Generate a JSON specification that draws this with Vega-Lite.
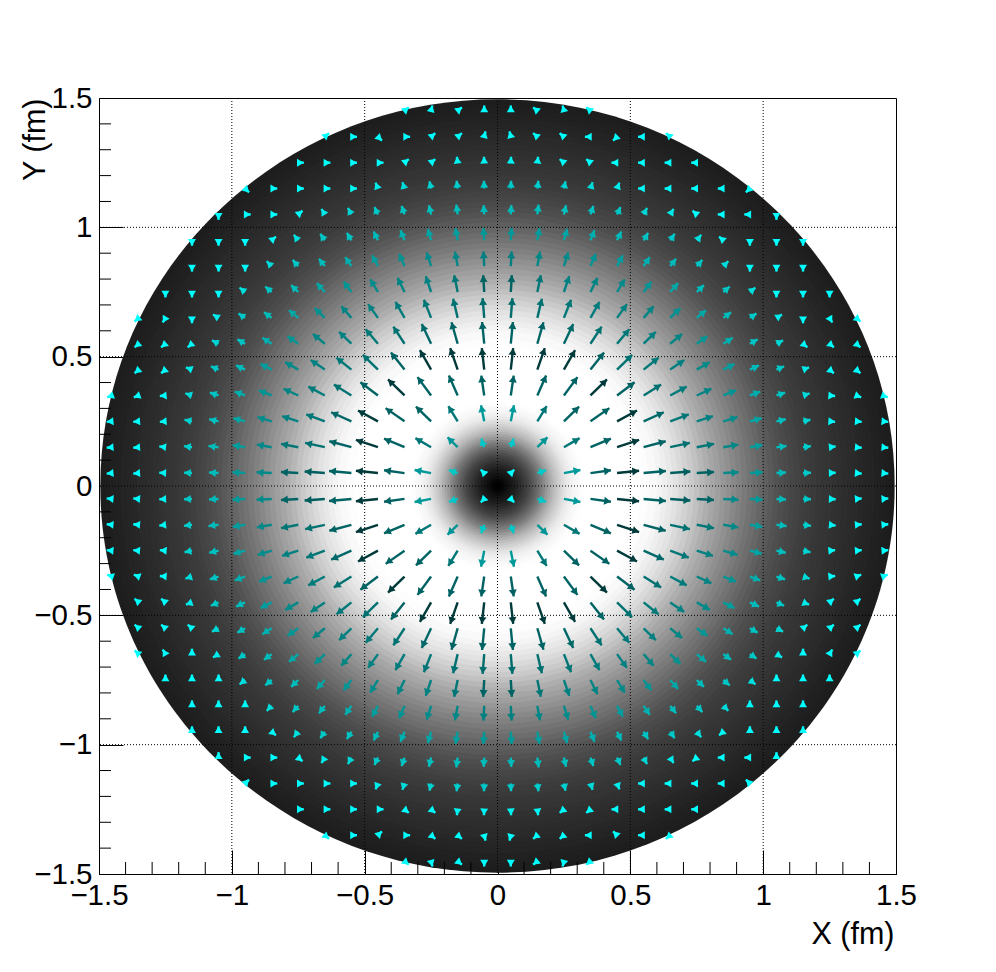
{"$schema":"https://vega.github.io/schema/vega-lite/v6.json","width":797,"height":776,"autosize":{"type":"none"},"padding":{"left":99,"top":98,"right":100,"bottom":98},"background":"white","view":{"stroke":"black","strokeWidth":1,"fill":null},
"config":{"axis":{"labelFont":"Liberation Sans","titleFont":"Liberation Sans","labelFontSize":29.5,"titleFontSize":30.5,"titleFontWeight":"normal","labelColor":"black","titleColor":"black","tickColor":"black","domainColor":"black","grid":false,"zindex":1,"labelFlush":false,"labelOverlap":false}},
"datasets":{"arrows":[
{"x":0.05,"y":0.05,"e":0.063,"f":0.063,"a":45,"m":0},{"x":0.15,"y":0.05,"e":0.183,"f":0.061,"a":72,"m":50},{"x":0.25,"y":0.05,"e":0.312,"f":0.062,"a":79,"m":95},{"x":0.35,"y":0.05,"e":0.427,"f":0.061,"a":82,"m":151},{"x":0.45,"y":0.05,"e":0.533,"f":0.059,"a":84,"m":195},{"x":0.55,"y":0.05,"e":0.634,"f":0.058,"a":85,"m":150},{"x":0.65,"y":0.05,"e":0.726,"f":0.056,"a":86,"m":155},{"x":0.75,"y":0.05,"e":0.815,"f":0.054,"a":86,"m":150},{"x":0.85,"y":0.05,"e":0.907,"f":0.053,"a":87,"m":110},{"x":0.95,"y":0.05,"e":0.998,"f":0.053,"a":87,"m":95},{"x":1.05,"y":0.05,"e":1.086,"f":0.052,"a":87,"m":62},{"x":1.15,"y":0.05,"e":1.18,"f":0.051,"a":88,"m":50},{"x":1.25,"y":0.05,"e":1.273,"f":0.051,"a":88,"m":12},{"x":1.35,"y":0.05,"e":1.371,"f":0.048,"a":95,"m":0},{"x":1.45,"y":0.05,"e":1.471,"f":0.048,"a":95,"m":0},
{"x":0.05,"y":0.15,"e":0.061,"f":0.183,"a":18,"m":50},{"x":0.15,"y":0.15,"e":0.188,"f":0.188,"a":45,"m":100},{"x":0.25,"y":0.15,"e":0.309,"f":0.185,"a":59,"m":130},{"x":0.35,"y":0.15,"e":0.427,"f":0.183,"a":67,"m":150},{"x":0.45,"y":0.15,"e":0.533,"f":0.178,"a":72,"m":195},{"x":0.55,"y":0.15,"e":0.633,"f":0.173,"a":75,"m":150},{"x":0.65,"y":0.15,"e":0.724,"f":0.167,"a":77,"m":135},{"x":0.75,"y":0.15,"e":0.815,"f":0.163,"a":79,"m":130},{"x":0.85,"y":0.15,"e":0.906,"f":0.16,"a":80,"m":112},{"x":0.95,"y":0.15,"e":0.997,"f":0.158,"a":81,"m":90},{"x":1.05,"y":0.15,"e":1.088,"f":0.155,"a":82,"m":60},{"x":1.15,"y":0.15,"e":1.18,"f":0.154,"a":83,"m":45},{"x":1.25,"y":0.15,"e":1.273,"f":0.153,"a":83,"m":10},{"x":1.35,"y":0.15,"e":1.371,"f":0.148,"a":95,"m":0},{"x":1.45,"y":0.15,"e":1.471,"f":0.148,"a":95,"m":0},
{"x":0.05,"y":0.25,"e":0.062,"f":0.312,"a":11,"m":95},{"x":0.15,"y":0.25,"e":0.185,"f":0.309,"a":31,"m":130},{"x":0.25,"y":0.25,"e":0.307,"f":0.307,"a":45,"m":150},{"x":0.35,"y":0.25,"e":0.421,"f":0.301,"a":54,"m":150},{"x":0.45,"y":0.25,"e":0.525,"f":0.292,"a":61,"m":195},{"x":0.55,"y":0.25,"e":0.626,"f":0.285,"a":66,"m":145},{"x":0.65,"y":0.25,"e":0.72,"f":0.277,"a":69,"m":130},{"x":0.75,"y":0.25,"e":0.811,"f":0.27,"a":72,"m":120},{"x":0.85,"y":0.25,"e":0.903,"f":0.266,"a":74,"m":108},{"x":0.95,"y":0.25,"e":0.994,"f":0.262,"a":75,"m":82},{"x":1.05,"y":0.25,"e":1.085,"f":0.258,"a":77,"m":58},{"x":1.15,"y":0.25,"e":1.178,"f":0.256,"a":78,"m":42},{"x":1.25,"y":0.25,"e":1.271,"f":0.248,"a":95,"m":5},{"x":1.35,"y":0.25,"e":1.371,"f":0.248,"a":95,"m":0},{"x":1.45,"y":0.25,"e":1.471,"f":0.248,"a":95,"m":0},
{"x":0.05,"y":0.35,"e":0.061,"f":0.427,"a":8,"m":151},{"x":0.15,"y":0.35,"e":0.183,"f":0.427,"a":23,"m":150},{"x":0.25,"y":0.35,"e":0.301,"f":0.421,"a":36,"m":150},{"x":0.35,"y":0.35,"e":0.412,"f":0.412,"a":45,"m":195},{"x":0.45,"y":0.35,"e":0.516,"f":0.401,"a":52,"m":150},{"x":0.55,"y":0.35,"e":0.616,"f":0.392,"a":58,"m":135},{"x":0.65,"y":0.35,"e":0.712,"f":0.384,"a":62,"m":125},{"x":0.75,"y":0.35,"e":0.805,"f":0.376,"a":65,"m":116},{"x":0.85,"y":0.35,"e":0.898,"f":0.37,"a":68,"m":100},{"x":0.95,"y":0.35,"e":0.989,"f":0.365,"a":70,"m":74},{"x":1.05,"y":0.35,"e":1.083,"f":0.361,"a":72,"m":55},{"x":1.15,"y":0.35,"e":1.175,"f":0.358,"a":73,"m":33},{"x":1.25,"y":0.35,"e":1.271,"f":0.348,"a":95,"m":0},{"x":1.35,"y":0.35,"e":1.369,"f":0.343,"a":110,"m":0},{"x":1.45,"y":0.35,"e":1.469,"f":0.343,"a":110,"m":0},
{"x":0.05,"y":0.45,"e":0.059,"f":0.533,"a":6,"m":195},{"x":0.15,"y":0.45,"e":0.178,"f":0.533,"a":18,"m":195},{"x":0.25,"y":0.45,"e":0.292,"f":0.525,"a":29,"m":195},{"x":0.35,"y":0.45,"e":0.401,"f":0.516,"a":38,"m":150},{"x":0.45,"y":0.45,"e":0.507,"f":0.507,"a":45,"m":135},{"x":0.55,"y":0.45,"e":0.606,"f":0.496,"a":51,"m":128},{"x":0.65,"y":0.45,"e":0.703,"f":0.487,"a":55,"m":120},{"x":0.75,"y":0.45,"e":0.799,"f":0.479,"a":59,"m":110},{"x":0.85,"y":0.45,"e":0.892,"f":0.472,"a":62,"m":90},{"x":0.95,"y":0.45,"e":0.984,"f":0.466,"a":65,"m":62},{"x":1.05,"y":0.45,"e":1.079,"f":0.463,"a":67,"m":50},{"x":1.15,"y":0.45,"e":1.173,"f":0.459,"a":69,"m":18},{"x":1.25,"y":0.45,"e":1.266,"f":0.436,"a":130,"m":0},{"x":1.35,"y":0.45,"e":1.366,"f":0.436,"a":130,"m":0},
{"x":0.05,"y":0.55,"e":0.058,"f":0.634,"a":5,"m":150},{"x":0.15,"y":0.55,"e":0.173,"f":0.633,"a":15,"m":150},{"x":0.25,"y":0.55,"e":0.285,"f":0.626,"a":24,"m":145},{"x":0.35,"y":0.55,"e":0.392,"f":0.616,"a":32,"m":135},{"x":0.45,"y":0.55,"e":0.496,"f":0.606,"a":39,"m":128},{"x":0.55,"y":0.55,"e":0.596,"f":0.596,"a":45,"m":120},{"x":0.65,"y":0.55,"e":0.695,"f":0.588,"a":50,"m":115},{"x":0.75,"y":0.55,"e":0.79,"f":0.579,"a":54,"m":98},{"x":0.85,"y":0.55,"e":0.885,"f":0.573,"a":57,"m":74},{"x":0.95,"y":0.55,"e":0.979,"f":0.567,"a":60,"m":55},{"x":1.05,"y":0.55,"e":1.075,"f":0.563,"a":62,"m":38},{"x":1.15,"y":0.55,"e":1.166,"f":0.536,"a":130,"m":5},{"x":1.25,"y":0.55,"e":1.266,"f":0.536,"a":130,"m":0},{"x":1.35,"y":0.55,"e":1.366,"f":0.536,"a":130,"m":0},
{"x":0.05,"y":0.65,"e":0.056,"f":0.726,"a":4,"m":140},{"x":0.15,"y":0.65,"e":0.167,"f":0.724,"a":13,"m":135},{"x":0.25,"y":0.65,"e":0.277,"f":0.72,"a":21,"m":130},{"x":0.35,"y":0.65,"e":0.384,"f":0.712,"a":28,"m":125},{"x":0.45,"y":0.65,"e":0.487,"f":0.703,"a":35,"m":120},{"x":0.55,"y":0.65,"e":0.588,"f":0.695,"a":40,"m":115},{"x":0.65,"y":0.65,"e":0.688,"f":0.688,"a":45,"m":103},{"x":0.75,"y":0.65,"e":0.785,"f":0.68,"a":49,"m":80},{"x":0.85,"y":0.65,"e":0.879,"f":0.672,"a":53,"m":60},{"x":0.95,"y":0.65,"e":0.975,"f":0.667,"a":56,"m":50},{"x":1.05,"y":0.65,"e":1.071,"f":0.663,"a":58,"m":18},{"x":1.15,"y":0.65,"e":1.15,"f":0.629,"a":180,"m":0},{"x":1.25,"y":0.65,"e":1.26,"f":0.632,"a":150,"m":0},{"x":1.35,"y":0.65,"e":1.366,"f":0.636,"a":130,"m":0},
{"x":0.05,"y":0.75,"e":0.054,"f":0.815,"a":4,"m":150},{"x":0.15,"y":0.75,"e":0.163,"f":0.815,"a":11,"m":130},{"x":0.25,"y":0.75,"e":0.27,"f":0.811,"a":18,"m":120},{"x":0.35,"y":0.75,"e":0.376,"f":0.805,"a":25,"m":116},{"x":0.45,"y":0.75,"e":0.479,"f":0.799,"a":31,"m":110},{"x":0.55,"y":0.75,"e":0.579,"f":0.79,"a":36,"m":98},{"x":0.65,"y":0.75,"e":0.68,"f":0.785,"a":41,"m":80},{"x":0.75,"y":0.75,"e":0.777,"f":0.777,"a":45,"m":60},{"x":0.85,"y":0.75,"e":0.874,"f":0.771,"a":49,"m":52},{"x":0.95,"y":0.75,"e":0.971,"f":0.767,"a":52,"m":30},{"x":1.05,"y":0.75,"e":1.05,"f":0.729,"a":180,"m":0},{"x":1.15,"y":0.75,"e":1.15,"f":0.729,"a":180,"m":0},{"x":1.25,"y":0.75,"e":1.25,"f":0.729,"a":180,"m":0},
{"x":0.05,"y":0.85,"e":0.053,"f":0.907,"a":3,"m":120},{"x":0.15,"y":0.85,"e":0.16,"f":0.906,"a":10,"m":112},{"x":0.25,"y":0.85,"e":0.266,"f":0.903,"a":16,"m":108},{"x":0.35,"y":0.85,"e":0.37,"f":0.898,"a":22,"m":100},{"x":0.45,"y":0.85,"e":0.472,"f":0.892,"a":28,"m":90},{"x":0.55,"y":0.85,"e":0.573,"f":0.885,"a":33,"m":74},{"x":0.65,"y":0.85,"e":0.672,"f":0.879,"a":37,"m":60},{"x":0.75,"y":0.85,"e":0.771,"f":0.874,"a":41,"m":52},{"x":0.85,"y":0.85,"e":0.869,"f":0.869,"a":45,"m":33},{"x":0.95,"y":0.85,"e":0.95,"f":0.829,"a":180,"m":5},{"x":1.05,"y":0.85,"e":1.05,"f":0.829,"a":180,"m":0},{"x":1.15,"y":0.85,"e":1.15,"f":0.829,"a":180,"m":0},
{"x":0.05,"y":0.95,"e":0.053,"f":0.998,"a":3,"m":95},{"x":0.15,"y":0.95,"e":0.158,"f":0.997,"a":9,"m":90},{"x":0.25,"y":0.95,"e":0.262,"f":0.994,"a":15,"m":82},{"x":0.35,"y":0.95,"e":0.365,"f":0.989,"a":20,"m":74},{"x":0.45,"y":0.95,"e":0.466,"f":0.984,"a":25,"m":62},{"x":0.55,"y":0.95,"e":0.567,"f":0.979,"a":30,"m":55},{"x":0.65,"y":0.95,"e":0.667,"f":0.975,"a":34,"m":50},{"x":0.75,"y":0.95,"e":0.767,"f":0.971,"a":38,"m":30},{"x":0.85,"y":0.95,"e":0.834,"f":0.964,"a":310,"m":5},{"x":0.95,"y":0.95,"e":0.95,"f":0.929,"a":180,"m":0},{"x":1.05,"y":0.95,"e":1.05,"f":0.929,"a":180,"m":0},{"x":1.15,"y":0.95,"e":1.15,"f":0.929,"a":180,"m":0},
{"x":0.05,"y":1.05,"e":0.052,"f":1.086,"a":3,"m":62},{"x":0.15,"y":1.05,"e":0.155,"f":1.088,"a":8,"m":60},{"x":0.25,"y":1.05,"e":0.258,"f":1.085,"a":13,"m":58},{"x":0.35,"y":1.05,"e":0.361,"f":1.083,"a":18,"m":55},{"x":0.45,"y":1.05,"e":0.463,"f":1.079,"a":23,"m":50},{"x":0.55,"y":1.05,"e":0.563,"f":1.075,"a":28,"m":38},{"x":0.65,"y":1.05,"e":0.663,"f":1.071,"a":32,"m":18},{"x":0.75,"y":1.05,"e":0.734,"f":1.064,"a":310,"m":0},{"x":0.85,"y":1.05,"e":0.829,"f":1.05,"a":270,"m":0},{"x":0.95,"y":1.05,"e":0.929,"f":1.05,"a":270,"m":0},{"x":1.05,"y":1.05,"e":1.05,"f":1.029,"a":180,"m":0},
{"x":0.05,"y":1.15,"e":0.051,"f":1.18,"a":2,"m":50},{"x":0.15,"y":1.15,"e":0.154,"f":1.18,"a":7,"m":45},{"x":0.25,"y":1.15,"e":0.256,"f":1.178,"a":12,"m":42},{"x":0.35,"y":1.15,"e":0.358,"f":1.175,"a":17,"m":33},{"x":0.45,"y":1.15,"e":0.459,"f":1.173,"a":21,"m":18},{"x":0.55,"y":1.15,"e":0.529,"f":1.15,"a":270,"m":5},{"x":0.65,"y":1.15,"e":0.629,"f":1.15,"a":270,"m":0},{"x":0.75,"y":1.15,"e":0.729,"f":1.15,"a":270,"m":0},{"x":0.85,"y":1.15,"e":0.829,"f":1.15,"a":270,"m":0},{"x":0.95,"y":1.15,"e":0.935,"f":1.135,"a":225,"m":0},
{"x":0.05,"y":1.25,"e":0.051,"f":1.273,"a":2,"m":12},{"x":0.15,"y":1.25,"e":0.153,"f":1.273,"a":7,"m":10},{"x":0.25,"y":1.25,"e":0.234,"f":1.264,"a":310,"m":5},{"x":0.35,"y":1.25,"e":0.334,"f":1.264,"a":310,"m":0},{"x":0.45,"y":1.25,"e":0.429,"f":1.25,"a":270,"m":0},{"x":0.55,"y":1.25,"e":0.529,"f":1.25,"a":270,"m":0},{"x":0.65,"y":1.25,"e":0.629,"f":1.25,"a":270,"m":0},{"x":0.75,"y":1.25,"e":0.729,"f":1.25,"a":270,"m":0},
{"x":0.05,"y":1.35,"e":0.045,"f":1.371,"a":345,"m":0},{"x":0.15,"y":1.35,"e":0.134,"f":1.364,"a":310,"m":0},{"x":0.25,"y":1.35,"e":0.234,"f":1.364,"a":310,"m":0},{"x":0.35,"y":1.35,"e":0.329,"f":1.35,"a":270,"m":0},{"x":0.45,"y":1.35,"e":0.435,"f":1.335,"a":225,"m":0},{"x":0.55,"y":1.35,"e":0.529,"f":1.35,"a":270,"m":0},{"x":0.65,"y":1.35,"e":0.634,"f":1.364,"a":310,"m":0},
{"x":0.05,"y":1.45,"e":0.05,"f":1.471,"a":0,"m":0},{"x":0.15,"y":1.45,"e":0.134,"f":1.464,"a":310,"m":0},{"x":0.25,"y":1.45,"e":0.245,"f":1.471,"a":345,"m":0},{"x":0.35,"y":1.45,"e":0.334,"f":1.464,"a":310,"m":0},
{"x":-0.05,"y":0.05,"e":-0.063,"f":0.063,"a":315,"m":0},{"x":-0.15,"y":0.05,"e":-0.183,"f":0.061,"a":288,"m":50},{"x":-0.25,"y":0.05,"e":-0.312,"f":0.062,"a":281,"m":95},{"x":-0.35,"y":0.05,"e":-0.427,"f":0.061,"a":278,"m":151},{"x":-0.45,"y":0.05,"e":-0.533,"f":0.059,"a":276,"m":195},{"x":-0.55,"y":0.05,"e":-0.634,"f":0.058,"a":275,"m":150},{"x":-0.65,"y":0.05,"e":-0.726,"f":0.056,"a":274,"m":155},{"x":-0.75,"y":0.05,"e":-0.815,"f":0.054,"a":274,"m":150},{"x":-0.85,"y":0.05,"e":-0.907,"f":0.053,"a":273,"m":110},{"x":-0.95,"y":0.05,"e":-0.998,"f":0.053,"a":273,"m":95},{"x":-1.05,"y":0.05,"e":-1.086,"f":0.052,"a":273,"m":62},{"x":-1.15,"y":0.05,"e":-1.18,"f":0.051,"a":272,"m":50},{"x":-1.25,"y":0.05,"e":-1.273,"f":0.051,"a":272,"m":12},{"x":-1.35,"y":0.05,"e":-1.371,"f":0.048,"a":265,"m":0},{"x":-1.45,"y":0.05,"e":-1.471,"f":0.048,"a":265,"m":0},
{"x":-0.05,"y":0.15,"e":-0.061,"f":0.183,"a":342,"m":50},{"x":-0.15,"y":0.15,"e":-0.188,"f":0.188,"a":315,"m":100},{"x":-0.25,"y":0.15,"e":-0.309,"f":0.185,"a":301,"m":130},{"x":-0.35,"y":0.15,"e":-0.427,"f":0.183,"a":293,"m":150},{"x":-0.45,"y":0.15,"e":-0.533,"f":0.178,"a":288,"m":195},{"x":-0.55,"y":0.15,"e":-0.633,"f":0.173,"a":285,"m":150},{"x":-0.65,"y":0.15,"e":-0.724,"f":0.167,"a":283,"m":135},{"x":-0.75,"y":0.15,"e":-0.815,"f":0.163,"a":281,"m":130},{"x":-0.85,"y":0.15,"e":-0.906,"f":0.16,"a":280,"m":112},{"x":-0.95,"y":0.15,"e":-0.997,"f":0.158,"a":279,"m":90},{"x":-1.05,"y":0.15,"e":-1.088,"f":0.155,"a":278,"m":60},{"x":-1.15,"y":0.15,"e":-1.18,"f":0.154,"a":277,"m":45},{"x":-1.25,"y":0.15,"e":-1.273,"f":0.153,"a":277,"m":10},{"x":-1.35,"y":0.15,"e":-1.371,"f":0.148,"a":265,"m":0},{"x":-1.45,"y":0.15,"e":-1.471,"f":0.148,"a":265,"m":0},
{"x":-0.05,"y":0.25,"e":-0.062,"f":0.312,"a":349,"m":95},{"x":-0.15,"y":0.25,"e":-0.185,"f":0.309,"a":329,"m":130},{"x":-0.25,"y":0.25,"e":-0.307,"f":0.307,"a":315,"m":150},{"x":-0.35,"y":0.25,"e":-0.421,"f":0.301,"a":306,"m":150},{"x":-0.45,"y":0.25,"e":-0.525,"f":0.292,"a":299,"m":195},{"x":-0.55,"y":0.25,"e":-0.626,"f":0.285,"a":294,"m":145},{"x":-0.65,"y":0.25,"e":-0.72,"f":0.277,"a":291,"m":130},{"x":-0.75,"y":0.25,"e":-0.811,"f":0.27,"a":288,"m":120},{"x":-0.85,"y":0.25,"e":-0.903,"f":0.266,"a":286,"m":108},{"x":-0.95,"y":0.25,"e":-0.994,"f":0.262,"a":285,"m":82},{"x":-1.05,"y":0.25,"e":-1.085,"f":0.258,"a":283,"m":58},{"x":-1.15,"y":0.25,"e":-1.178,"f":0.256,"a":282,"m":42},{"x":-1.25,"y":0.25,"e":-1.271,"f":0.248,"a":265,"m":5},{"x":-1.35,"y":0.25,"e":-1.371,"f":0.248,"a":265,"m":0},{"x":-1.45,"y":0.25,"e":-1.471,"f":0.248,"a":265,"m":0},
{"x":-0.05,"y":0.35,"e":-0.061,"f":0.427,"a":352,"m":151},{"x":-0.15,"y":0.35,"e":-0.183,"f":0.427,"a":337,"m":150},{"x":-0.25,"y":0.35,"e":-0.301,"f":0.421,"a":324,"m":150},{"x":-0.35,"y":0.35,"e":-0.412,"f":0.412,"a":315,"m":195},{"x":-0.45,"y":0.35,"e":-0.516,"f":0.401,"a":308,"m":150},{"x":-0.55,"y":0.35,"e":-0.616,"f":0.392,"a":302,"m":135},{"x":-0.65,"y":0.35,"e":-0.712,"f":0.384,"a":298,"m":125},{"x":-0.75,"y":0.35,"e":-0.805,"f":0.376,"a":295,"m":116},{"x":-0.85,"y":0.35,"e":-0.898,"f":0.37,"a":292,"m":100},{"x":-0.95,"y":0.35,"e":-0.989,"f":0.365,"a":290,"m":74},{"x":-1.05,"y":0.35,"e":-1.083,"f":0.361,"a":288,"m":55},{"x":-1.15,"y":0.35,"e":-1.175,"f":0.358,"a":287,"m":33},{"x":-1.25,"y":0.35,"e":-1.271,"f":0.348,"a":265,"m":0},{"x":-1.35,"y":0.35,"e":-1.369,"f":0.343,"a":250,"m":0},{"x":-1.45,"y":0.35,"e":-1.469,"f":0.343,"a":250,"m":0},
{"x":-0.05,"y":0.45,"e":-0.059,"f":0.533,"a":354,"m":195},{"x":-0.15,"y":0.45,"e":-0.178,"f":0.533,"a":342,"m":195},{"x":-0.25,"y":0.45,"e":-0.292,"f":0.525,"a":331,"m":195},{"x":-0.35,"y":0.45,"e":-0.401,"f":0.516,"a":322,"m":150},{"x":-0.45,"y":0.45,"e":-0.507,"f":0.507,"a":315,"m":135},{"x":-0.55,"y":0.45,"e":-0.606,"f":0.496,"a":309,"m":128},{"x":-0.65,"y":0.45,"e":-0.703,"f":0.487,"a":305,"m":120},{"x":-0.75,"y":0.45,"e":-0.799,"f":0.479,"a":301,"m":110},{"x":-0.85,"y":0.45,"e":-0.892,"f":0.472,"a":298,"m":90},{"x":-0.95,"y":0.45,"e":-0.984,"f":0.466,"a":295,"m":62},{"x":-1.05,"y":0.45,"e":-1.079,"f":0.463,"a":293,"m":50},{"x":-1.15,"y":0.45,"e":-1.173,"f":0.459,"a":291,"m":18},{"x":-1.25,"y":0.45,"e":-1.266,"f":0.436,"a":230,"m":0},{"x":-1.35,"y":0.45,"e":-1.366,"f":0.436,"a":230,"m":0},
{"x":-0.05,"y":0.55,"e":-0.058,"f":0.634,"a":355,"m":150},{"x":-0.15,"y":0.55,"e":-0.173,"f":0.633,"a":345,"m":150},{"x":-0.25,"y":0.55,"e":-0.285,"f":0.626,"a":336,"m":145},{"x":-0.35,"y":0.55,"e":-0.392,"f":0.616,"a":328,"m":135},{"x":-0.45,"y":0.55,"e":-0.496,"f":0.606,"a":321,"m":128},{"x":-0.55,"y":0.55,"e":-0.596,"f":0.596,"a":315,"m":120},{"x":-0.65,"y":0.55,"e":-0.695,"f":0.588,"a":310,"m":115},{"x":-0.75,"y":0.55,"e":-0.79,"f":0.579,"a":306,"m":98},{"x":-0.85,"y":0.55,"e":-0.885,"f":0.573,"a":303,"m":74},{"x":-0.95,"y":0.55,"e":-0.979,"f":0.567,"a":300,"m":55},{"x":-1.05,"y":0.55,"e":-1.075,"f":0.563,"a":298,"m":38},{"x":-1.15,"y":0.55,"e":-1.166,"f":0.536,"a":230,"m":5},{"x":-1.25,"y":0.55,"e":-1.266,"f":0.536,"a":230,"m":0},{"x":-1.35,"y":0.55,"e":-1.366,"f":0.536,"a":230,"m":0},
{"x":-0.05,"y":0.65,"e":-0.056,"f":0.726,"a":356,"m":140},{"x":-0.15,"y":0.65,"e":-0.167,"f":0.724,"a":347,"m":135},{"x":-0.25,"y":0.65,"e":-0.277,"f":0.72,"a":339,"m":130},{"x":-0.35,"y":0.65,"e":-0.384,"f":0.712,"a":332,"m":125},{"x":-0.45,"y":0.65,"e":-0.487,"f":0.703,"a":325,"m":120},{"x":-0.55,"y":0.65,"e":-0.588,"f":0.695,"a":320,"m":115},{"x":-0.65,"y":0.65,"e":-0.688,"f":0.688,"a":315,"m":103},{"x":-0.75,"y":0.65,"e":-0.785,"f":0.68,"a":311,"m":80},{"x":-0.85,"y":0.65,"e":-0.879,"f":0.672,"a":307,"m":60},{"x":-0.95,"y":0.65,"e":-0.975,"f":0.667,"a":304,"m":50},{"x":-1.05,"y":0.65,"e":-1.071,"f":0.663,"a":302,"m":18},{"x":-1.15,"y":0.65,"e":-1.15,"f":0.629,"a":180,"m":0},{"x":-1.25,"y":0.65,"e":-1.26,"f":0.632,"a":210,"m":0},{"x":-1.35,"y":0.65,"e":-1.366,"f":0.636,"a":230,"m":0},
{"x":-0.05,"y":0.75,"e":-0.054,"f":0.815,"a":356,"m":150},{"x":-0.15,"y":0.75,"e":-0.163,"f":0.815,"a":349,"m":130},{"x":-0.25,"y":0.75,"e":-0.27,"f":0.811,"a":342,"m":120},{"x":-0.35,"y":0.75,"e":-0.376,"f":0.805,"a":335,"m":116},{"x":-0.45,"y":0.75,"e":-0.479,"f":0.799,"a":329,"m":110},{"x":-0.55,"y":0.75,"e":-0.579,"f":0.79,"a":324,"m":98},{"x":-0.65,"y":0.75,"e":-0.68,"f":0.785,"a":319,"m":80},{"x":-0.75,"y":0.75,"e":-0.777,"f":0.777,"a":315,"m":60},{"x":-0.85,"y":0.75,"e":-0.874,"f":0.771,"a":311,"m":52},{"x":-0.95,"y":0.75,"e":-0.971,"f":0.767,"a":308,"m":30},{"x":-1.05,"y":0.75,"e":-1.05,"f":0.729,"a":180,"m":0},{"x":-1.15,"y":0.75,"e":-1.15,"f":0.729,"a":180,"m":0},{"x":-1.25,"y":0.75,"e":-1.25,"f":0.729,"a":180,"m":0},
{"x":-0.05,"y":0.85,"e":-0.053,"f":0.907,"a":357,"m":120},{"x":-0.15,"y":0.85,"e":-0.16,"f":0.906,"a":350,"m":112},{"x":-0.25,"y":0.85,"e":-0.266,"f":0.903,"a":344,"m":108},{"x":-0.35,"y":0.85,"e":-0.37,"f":0.898,"a":338,"m":100},{"x":-0.45,"y":0.85,"e":-0.472,"f":0.892,"a":332,"m":90},{"x":-0.55,"y":0.85,"e":-0.573,"f":0.885,"a":327,"m":74},{"x":-0.65,"y":0.85,"e":-0.672,"f":0.879,"a":323,"m":60},{"x":-0.75,"y":0.85,"e":-0.771,"f":0.874,"a":319,"m":52},{"x":-0.85,"y":0.85,"e":-0.869,"f":0.869,"a":315,"m":33},{"x":-0.95,"y":0.85,"e":-0.95,"f":0.829,"a":180,"m":5},{"x":-1.05,"y":0.85,"e":-1.05,"f":0.829,"a":180,"m":0},{"x":-1.15,"y":0.85,"e":-1.15,"f":0.829,"a":180,"m":0},
{"x":-0.05,"y":0.95,"e":-0.053,"f":0.998,"a":357,"m":95},{"x":-0.15,"y":0.95,"e":-0.158,"f":0.997,"a":351,"m":90},{"x":-0.25,"y":0.95,"e":-0.262,"f":0.994,"a":345,"m":82},{"x":-0.35,"y":0.95,"e":-0.365,"f":0.989,"a":340,"m":74},{"x":-0.45,"y":0.95,"e":-0.466,"f":0.984,"a":335,"m":62},{"x":-0.55,"y":0.95,"e":-0.567,"f":0.979,"a":330,"m":55},{"x":-0.65,"y":0.95,"e":-0.667,"f":0.975,"a":326,"m":50},{"x":-0.75,"y":0.95,"e":-0.767,"f":0.971,"a":322,"m":30},{"x":-0.85,"y":0.95,"e":-0.834,"f":0.964,"a":50,"m":5},{"x":-0.95,"y":0.95,"e":-0.95,"f":0.929,"a":180,"m":0},{"x":-1.05,"y":0.95,"e":-1.05,"f":0.929,"a":180,"m":0},{"x":-1.15,"y":0.95,"e":-1.15,"f":0.929,"a":180,"m":0},
{"x":-0.05,"y":1.05,"e":-0.052,"f":1.086,"a":357,"m":62},{"x":-0.15,"y":1.05,"e":-0.155,"f":1.088,"a":352,"m":60},{"x":-0.25,"y":1.05,"e":-0.258,"f":1.085,"a":347,"m":58},{"x":-0.35,"y":1.05,"e":-0.361,"f":1.083,"a":342,"m":55},{"x":-0.45,"y":1.05,"e":-0.463,"f":1.079,"a":337,"m":50},{"x":-0.55,"y":1.05,"e":-0.563,"f":1.075,"a":332,"m":38},{"x":-0.65,"y":1.05,"e":-0.663,"f":1.071,"a":328,"m":18},{"x":-0.75,"y":1.05,"e":-0.734,"f":1.064,"a":50,"m":0},{"x":-0.85,"y":1.05,"e":-0.829,"f":1.05,"a":90,"m":0},{"x":-0.95,"y":1.05,"e":-0.929,"f":1.05,"a":90,"m":0},{"x":-1.05,"y":1.05,"e":-1.05,"f":1.029,"a":180,"m":0},
{"x":-0.05,"y":1.15,"e":-0.051,"f":1.18,"a":358,"m":50},{"x":-0.15,"y":1.15,"e":-0.154,"f":1.18,"a":353,"m":45},{"x":-0.25,"y":1.15,"e":-0.256,"f":1.178,"a":348,"m":42},{"x":-0.35,"y":1.15,"e":-0.358,"f":1.175,"a":343,"m":33},{"x":-0.45,"y":1.15,"e":-0.459,"f":1.173,"a":339,"m":18},{"x":-0.55,"y":1.15,"e":-0.529,"f":1.15,"a":90,"m":5},{"x":-0.65,"y":1.15,"e":-0.629,"f":1.15,"a":90,"m":0},{"x":-0.75,"y":1.15,"e":-0.729,"f":1.15,"a":90,"m":0},{"x":-0.85,"y":1.15,"e":-0.829,"f":1.15,"a":90,"m":0},{"x":-0.95,"y":1.15,"e":-0.935,"f":1.135,"a":135,"m":0},
{"x":-0.05,"y":1.25,"e":-0.051,"f":1.273,"a":358,"m":12},{"x":-0.15,"y":1.25,"e":-0.153,"f":1.273,"a":353,"m":10},{"x":-0.25,"y":1.25,"e":-0.234,"f":1.264,"a":50,"m":5},{"x":-0.35,"y":1.25,"e":-0.334,"f":1.264,"a":50,"m":0},{"x":-0.45,"y":1.25,"e":-0.429,"f":1.25,"a":90,"m":0},{"x":-0.55,"y":1.25,"e":-0.529,"f":1.25,"a":90,"m":0},{"x":-0.65,"y":1.25,"e":-0.629,"f":1.25,"a":90,"m":0},{"x":-0.75,"y":1.25,"e":-0.729,"f":1.25,"a":90,"m":0},
{"x":-0.05,"y":1.35,"e":-0.045,"f":1.371,"a":15,"m":0},{"x":-0.15,"y":1.35,"e":-0.134,"f":1.364,"a":50,"m":0},{"x":-0.25,"y":1.35,"e":-0.234,"f":1.364,"a":50,"m":0},{"x":-0.35,"y":1.35,"e":-0.329,"f":1.35,"a":90,"m":0},{"x":-0.45,"y":1.35,"e":-0.435,"f":1.335,"a":135,"m":0},{"x":-0.55,"y":1.35,"e":-0.529,"f":1.35,"a":90,"m":0},{"x":-0.65,"y":1.35,"e":-0.634,"f":1.364,"a":50,"m":0},
{"x":-0.05,"y":1.45,"e":-0.05,"f":1.471,"a":0,"m":0},{"x":-0.15,"y":1.45,"e":-0.134,"f":1.464,"a":50,"m":0},{"x":-0.25,"y":1.45,"e":-0.245,"f":1.471,"a":15,"m":0},{"x":-0.35,"y":1.45,"e":-0.334,"f":1.464,"a":50,"m":0},
{"x":0.05,"y":-0.05,"e":0.063,"f":-0.063,"a":135,"m":0},{"x":0.15,"y":-0.05,"e":0.183,"f":-0.061,"a":108,"m":50},{"x":0.25,"y":-0.05,"e":0.312,"f":-0.062,"a":101,"m":95},{"x":0.35,"y":-0.05,"e":0.427,"f":-0.061,"a":98,"m":151},{"x":0.45,"y":-0.05,"e":0.533,"f":-0.059,"a":96,"m":195},{"x":0.55,"y":-0.05,"e":0.634,"f":-0.058,"a":95,"m":150},{"x":0.65,"y":-0.05,"e":0.726,"f":-0.056,"a":94,"m":155},{"x":0.75,"y":-0.05,"e":0.815,"f":-0.054,"a":94,"m":150},{"x":0.85,"y":-0.05,"e":0.907,"f":-0.053,"a":93,"m":110},{"x":0.95,"y":-0.05,"e":0.998,"f":-0.053,"a":93,"m":95},{"x":1.05,"y":-0.05,"e":1.086,"f":-0.052,"a":93,"m":62},{"x":1.15,"y":-0.05,"e":1.18,"f":-0.051,"a":92,"m":50},{"x":1.25,"y":-0.05,"e":1.273,"f":-0.051,"a":92,"m":12},{"x":1.35,"y":-0.05,"e":1.371,"f":-0.048,"a":85,"m":0},{"x":1.45,"y":-0.05,"e":1.471,"f":-0.048,"a":85,"m":0},
{"x":0.05,"y":-0.15,"e":0.061,"f":-0.183,"a":162,"m":50},{"x":0.15,"y":-0.15,"e":0.188,"f":-0.188,"a":135,"m":100},{"x":0.25,"y":-0.15,"e":0.309,"f":-0.185,"a":121,"m":130},{"x":0.35,"y":-0.15,"e":0.427,"f":-0.183,"a":113,"m":150},{"x":0.45,"y":-0.15,"e":0.533,"f":-0.178,"a":108,"m":195},{"x":0.55,"y":-0.15,"e":0.633,"f":-0.173,"a":105,"m":150},{"x":0.65,"y":-0.15,"e":0.724,"f":-0.167,"a":103,"m":135},{"x":0.75,"y":-0.15,"e":0.815,"f":-0.163,"a":101,"m":130},{"x":0.85,"y":-0.15,"e":0.906,"f":-0.16,"a":100,"m":112},{"x":0.95,"y":-0.15,"e":0.997,"f":-0.158,"a":99,"m":90},{"x":1.05,"y":-0.15,"e":1.088,"f":-0.155,"a":98,"m":60},{"x":1.15,"y":-0.15,"e":1.18,"f":-0.154,"a":97,"m":45},{"x":1.25,"y":-0.15,"e":1.273,"f":-0.153,"a":97,"m":10},{"x":1.35,"y":-0.15,"e":1.371,"f":-0.148,"a":85,"m":0},{"x":1.45,"y":-0.15,"e":1.471,"f":-0.148,"a":85,"m":0},
{"x":0.05,"y":-0.25,"e":0.062,"f":-0.312,"a":169,"m":95},{"x":0.15,"y":-0.25,"e":0.185,"f":-0.309,"a":149,"m":130},{"x":0.25,"y":-0.25,"e":0.307,"f":-0.307,"a":135,"m":150},{"x":0.35,"y":-0.25,"e":0.421,"f":-0.301,"a":126,"m":150},{"x":0.45,"y":-0.25,"e":0.525,"f":-0.292,"a":119,"m":195},{"x":0.55,"y":-0.25,"e":0.626,"f":-0.285,"a":114,"m":145},{"x":0.65,"y":-0.25,"e":0.72,"f":-0.277,"a":111,"m":130},{"x":0.75,"y":-0.25,"e":0.811,"f":-0.27,"a":108,"m":120},{"x":0.85,"y":-0.25,"e":0.903,"f":-0.266,"a":106,"m":108},{"x":0.95,"y":-0.25,"e":0.994,"f":-0.262,"a":105,"m":82},{"x":1.05,"y":-0.25,"e":1.085,"f":-0.258,"a":103,"m":58},{"x":1.15,"y":-0.25,"e":1.178,"f":-0.256,"a":102,"m":42},{"x":1.25,"y":-0.25,"e":1.271,"f":-0.248,"a":85,"m":5},{"x":1.35,"y":-0.25,"e":1.371,"f":-0.248,"a":85,"m":0},{"x":1.45,"y":-0.25,"e":1.471,"f":-0.248,"a":85,"m":0},
{"x":0.05,"y":-0.35,"e":0.061,"f":-0.427,"a":172,"m":151},{"x":0.15,"y":-0.35,"e":0.183,"f":-0.427,"a":157,"m":150},{"x":0.25,"y":-0.35,"e":0.301,"f":-0.421,"a":144,"m":150},{"x":0.35,"y":-0.35,"e":0.412,"f":-0.412,"a":135,"m":195},{"x":0.45,"y":-0.35,"e":0.516,"f":-0.401,"a":128,"m":150},{"x":0.55,"y":-0.35,"e":0.616,"f":-0.392,"a":122,"m":135},{"x":0.65,"y":-0.35,"e":0.712,"f":-0.384,"a":118,"m":125},{"x":0.75,"y":-0.35,"e":0.805,"f":-0.376,"a":115,"m":116},{"x":0.85,"y":-0.35,"e":0.898,"f":-0.37,"a":112,"m":100},{"x":0.95,"y":-0.35,"e":0.989,"f":-0.365,"a":110,"m":74},{"x":1.05,"y":-0.35,"e":1.083,"f":-0.361,"a":108,"m":55},{"x":1.15,"y":-0.35,"e":1.175,"f":-0.358,"a":107,"m":33},{"x":1.25,"y":-0.35,"e":1.271,"f":-0.348,"a":85,"m":0},{"x":1.35,"y":-0.35,"e":1.369,"f":-0.343,"a":70,"m":0},{"x":1.45,"y":-0.35,"e":1.469,"f":-0.343,"a":70,"m":0},
{"x":0.05,"y":-0.45,"e":0.059,"f":-0.533,"a":174,"m":195},{"x":0.15,"y":-0.45,"e":0.178,"f":-0.533,"a":162,"m":195},{"x":0.25,"y":-0.45,"e":0.292,"f":-0.525,"a":151,"m":195},{"x":0.35,"y":-0.45,"e":0.401,"f":-0.516,"a":142,"m":150},{"x":0.45,"y":-0.45,"e":0.507,"f":-0.507,"a":135,"m":135},{"x":0.55,"y":-0.45,"e":0.606,"f":-0.496,"a":129,"m":128},{"x":0.65,"y":-0.45,"e":0.703,"f":-0.487,"a":125,"m":120},{"x":0.75,"y":-0.45,"e":0.799,"f":-0.479,"a":121,"m":110},{"x":0.85,"y":-0.45,"e":0.892,"f":-0.472,"a":118,"m":90},{"x":0.95,"y":-0.45,"e":0.984,"f":-0.466,"a":115,"m":62},{"x":1.05,"y":-0.45,"e":1.079,"f":-0.463,"a":113,"m":50},{"x":1.15,"y":-0.45,"e":1.173,"f":-0.459,"a":111,"m":18},{"x":1.25,"y":-0.45,"e":1.266,"f":-0.436,"a":50,"m":0},{"x":1.35,"y":-0.45,"e":1.366,"f":-0.436,"a":50,"m":0},
{"x":0.05,"y":-0.55,"e":0.058,"f":-0.634,"a":175,"m":150},{"x":0.15,"y":-0.55,"e":0.173,"f":-0.633,"a":165,"m":150},{"x":0.25,"y":-0.55,"e":0.285,"f":-0.626,"a":156,"m":145},{"x":0.35,"y":-0.55,"e":0.392,"f":-0.616,"a":148,"m":135},{"x":0.45,"y":-0.55,"e":0.496,"f":-0.606,"a":141,"m":128},{"x":0.55,"y":-0.55,"e":0.596,"f":-0.596,"a":135,"m":120},{"x":0.65,"y":-0.55,"e":0.695,"f":-0.588,"a":130,"m":115},{"x":0.75,"y":-0.55,"e":0.79,"f":-0.579,"a":126,"m":98},{"x":0.85,"y":-0.55,"e":0.885,"f":-0.573,"a":123,"m":74},{"x":0.95,"y":-0.55,"e":0.979,"f":-0.567,"a":120,"m":55},{"x":1.05,"y":-0.55,"e":1.075,"f":-0.563,"a":118,"m":38},{"x":1.15,"y":-0.55,"e":1.166,"f":-0.536,"a":50,"m":5},{"x":1.25,"y":-0.55,"e":1.266,"f":-0.536,"a":50,"m":0},{"x":1.35,"y":-0.55,"e":1.366,"f":-0.536,"a":50,"m":0},
{"x":0.05,"y":-0.65,"e":0.056,"f":-0.726,"a":176,"m":140},{"x":0.15,"y":-0.65,"e":0.167,"f":-0.724,"a":167,"m":135},{"x":0.25,"y":-0.65,"e":0.277,"f":-0.72,"a":159,"m":130},{"x":0.35,"y":-0.65,"e":0.384,"f":-0.712,"a":152,"m":125},{"x":0.45,"y":-0.65,"e":0.487,"f":-0.703,"a":145,"m":120},{"x":0.55,"y":-0.65,"e":0.588,"f":-0.695,"a":140,"m":115},{"x":0.65,"y":-0.65,"e":0.688,"f":-0.688,"a":135,"m":103},{"x":0.75,"y":-0.65,"e":0.785,"f":-0.68,"a":131,"m":80},{"x":0.85,"y":-0.65,"e":0.879,"f":-0.672,"a":127,"m":60},{"x":0.95,"y":-0.65,"e":0.975,"f":-0.667,"a":124,"m":50},{"x":1.05,"y":-0.65,"e":1.071,"f":-0.663,"a":122,"m":18},{"x":1.15,"y":-0.65,"e":1.15,"f":-0.629,"a":0,"m":0},{"x":1.25,"y":-0.65,"e":1.26,"f":-0.632,"a":30,"m":0},{"x":1.35,"y":-0.65,"e":1.366,"f":-0.636,"a":50,"m":0},
{"x":0.05,"y":-0.75,"e":0.054,"f":-0.815,"a":176,"m":150},{"x":0.15,"y":-0.75,"e":0.163,"f":-0.815,"a":169,"m":130},{"x":0.25,"y":-0.75,"e":0.27,"f":-0.811,"a":162,"m":120},{"x":0.35,"y":-0.75,"e":0.376,"f":-0.805,"a":155,"m":116},{"x":0.45,"y":-0.75,"e":0.479,"f":-0.799,"a":149,"m":110},{"x":0.55,"y":-0.75,"e":0.579,"f":-0.79,"a":144,"m":98},{"x":0.65,"y":-0.75,"e":0.68,"f":-0.785,"a":139,"m":80},{"x":0.75,"y":-0.75,"e":0.777,"f":-0.777,"a":135,"m":60},{"x":0.85,"y":-0.75,"e":0.874,"f":-0.771,"a":131,"m":52},{"x":0.95,"y":-0.75,"e":0.971,"f":-0.767,"a":128,"m":30},{"x":1.05,"y":-0.75,"e":1.05,"f":-0.729,"a":0,"m":0},{"x":1.15,"y":-0.75,"e":1.15,"f":-0.729,"a":0,"m":0},{"x":1.25,"y":-0.75,"e":1.25,"f":-0.729,"a":0,"m":0},
{"x":0.05,"y":-0.85,"e":0.053,"f":-0.907,"a":177,"m":120},{"x":0.15,"y":-0.85,"e":0.16,"f":-0.906,"a":170,"m":112},{"x":0.25,"y":-0.85,"e":0.266,"f":-0.903,"a":164,"m":108},{"x":0.35,"y":-0.85,"e":0.37,"f":-0.898,"a":158,"m":100},{"x":0.45,"y":-0.85,"e":0.472,"f":-0.892,"a":152,"m":90},{"x":0.55,"y":-0.85,"e":0.573,"f":-0.885,"a":147,"m":74},{"x":0.65,"y":-0.85,"e":0.672,"f":-0.879,"a":143,"m":60},{"x":0.75,"y":-0.85,"e":0.771,"f":-0.874,"a":139,"m":52},{"x":0.85,"y":-0.85,"e":0.869,"f":-0.869,"a":135,"m":33},{"x":0.95,"y":-0.85,"e":0.95,"f":-0.829,"a":0,"m":5},{"x":1.05,"y":-0.85,"e":1.05,"f":-0.829,"a":0,"m":0},{"x":1.15,"y":-0.85,"e":1.15,"f":-0.829,"a":0,"m":0},
{"x":0.05,"y":-0.95,"e":0.053,"f":-0.998,"a":177,"m":95},{"x":0.15,"y":-0.95,"e":0.158,"f":-0.997,"a":171,"m":90},{"x":0.25,"y":-0.95,"e":0.262,"f":-0.994,"a":165,"m":82},{"x":0.35,"y":-0.95,"e":0.365,"f":-0.989,"a":160,"m":74},{"x":0.45,"y":-0.95,"e":0.466,"f":-0.984,"a":155,"m":62},{"x":0.55,"y":-0.95,"e":0.567,"f":-0.979,"a":150,"m":55},{"x":0.65,"y":-0.95,"e":0.667,"f":-0.975,"a":146,"m":50},{"x":0.75,"y":-0.95,"e":0.767,"f":-0.971,"a":142,"m":30},{"x":0.85,"y":-0.95,"e":0.834,"f":-0.964,"a":230,"m":5},{"x":0.95,"y":-0.95,"e":0.95,"f":-0.929,"a":0,"m":0},{"x":1.05,"y":-0.95,"e":1.05,"f":-0.929,"a":0,"m":0},{"x":1.15,"y":-0.95,"e":1.15,"f":-0.929,"a":0,"m":0},
{"x":0.05,"y":-1.05,"e":0.052,"f":-1.086,"a":177,"m":62},{"x":0.15,"y":-1.05,"e":0.155,"f":-1.088,"a":172,"m":60},{"x":0.25,"y":-1.05,"e":0.258,"f":-1.085,"a":167,"m":58},{"x":0.35,"y":-1.05,"e":0.361,"f":-1.083,"a":162,"m":55},{"x":0.45,"y":-1.05,"e":0.463,"f":-1.079,"a":157,"m":50},{"x":0.55,"y":-1.05,"e":0.563,"f":-1.075,"a":152,"m":38},{"x":0.65,"y":-1.05,"e":0.663,"f":-1.071,"a":148,"m":18},{"x":0.75,"y":-1.05,"e":0.734,"f":-1.064,"a":230,"m":0},{"x":0.85,"y":-1.05,"e":0.829,"f":-1.05,"a":270,"m":0},{"x":0.95,"y":-1.05,"e":0.929,"f":-1.05,"a":270,"m":0},{"x":1.05,"y":-1.05,"e":1.05,"f":-1.029,"a":0,"m":0},
{"x":0.05,"y":-1.15,"e":0.051,"f":-1.18,"a":178,"m":50},{"x":0.15,"y":-1.15,"e":0.154,"f":-1.18,"a":173,"m":45},{"x":0.25,"y":-1.15,"e":0.256,"f":-1.178,"a":168,"m":42},{"x":0.35,"y":-1.15,"e":0.358,"f":-1.175,"a":163,"m":33},{"x":0.45,"y":-1.15,"e":0.459,"f":-1.173,"a":159,"m":18},{"x":0.55,"y":-1.15,"e":0.529,"f":-1.15,"a":270,"m":5},{"x":0.65,"y":-1.15,"e":0.629,"f":-1.15,"a":270,"m":0},{"x":0.75,"y":-1.15,"e":0.729,"f":-1.15,"a":270,"m":0},{"x":0.85,"y":-1.15,"e":0.829,"f":-1.15,"a":270,"m":0},{"x":0.95,"y":-1.15,"e":0.935,"f":-1.135,"a":315,"m":0},
{"x":0.05,"y":-1.25,"e":0.051,"f":-1.273,"a":178,"m":12},{"x":0.15,"y":-1.25,"e":0.153,"f":-1.273,"a":173,"m":10},{"x":0.25,"y":-1.25,"e":0.234,"f":-1.264,"a":230,"m":5},{"x":0.35,"y":-1.25,"e":0.334,"f":-1.264,"a":230,"m":0},{"x":0.45,"y":-1.25,"e":0.429,"f":-1.25,"a":270,"m":0},{"x":0.55,"y":-1.25,"e":0.529,"f":-1.25,"a":270,"m":0},{"x":0.65,"y":-1.25,"e":0.629,"f":-1.25,"a":270,"m":0},{"x":0.75,"y":-1.25,"e":0.729,"f":-1.25,"a":270,"m":0},
{"x":0.05,"y":-1.35,"e":0.045,"f":-1.371,"a":195,"m":0},{"x":0.15,"y":-1.35,"e":0.134,"f":-1.364,"a":230,"m":0},{"x":0.25,"y":-1.35,"e":0.234,"f":-1.364,"a":230,"m":0},{"x":0.35,"y":-1.35,"e":0.329,"f":-1.35,"a":270,"m":0},{"x":0.45,"y":-1.35,"e":0.435,"f":-1.335,"a":315,"m":0},{"x":0.55,"y":-1.35,"e":0.529,"f":-1.35,"a":270,"m":0},{"x":0.65,"y":-1.35,"e":0.634,"f":-1.364,"a":230,"m":0},
{"x":0.05,"y":-1.45,"e":0.05,"f":-1.471,"a":180,"m":0},{"x":0.15,"y":-1.45,"e":0.134,"f":-1.464,"a":230,"m":0},{"x":0.25,"y":-1.45,"e":0.245,"f":-1.471,"a":195,"m":0},{"x":0.35,"y":-1.45,"e":0.334,"f":-1.464,"a":230,"m":0},
{"x":-0.05,"y":-0.05,"e":-0.063,"f":-0.063,"a":225,"m":0},{"x":-0.15,"y":-0.05,"e":-0.183,"f":-0.061,"a":252,"m":50},{"x":-0.25,"y":-0.05,"e":-0.312,"f":-0.062,"a":259,"m":95},{"x":-0.35,"y":-0.05,"e":-0.427,"f":-0.061,"a":262,"m":151},{"x":-0.45,"y":-0.05,"e":-0.533,"f":-0.059,"a":264,"m":195},{"x":-0.55,"y":-0.05,"e":-0.634,"f":-0.058,"a":265,"m":150},{"x":-0.65,"y":-0.05,"e":-0.726,"f":-0.056,"a":266,"m":155},{"x":-0.75,"y":-0.05,"e":-0.815,"f":-0.054,"a":266,"m":150},{"x":-0.85,"y":-0.05,"e":-0.907,"f":-0.053,"a":267,"m":110},{"x":-0.95,"y":-0.05,"e":-0.998,"f":-0.053,"a":267,"m":95},{"x":-1.05,"y":-0.05,"e":-1.086,"f":-0.052,"a":267,"m":62},{"x":-1.15,"y":-0.05,"e":-1.18,"f":-0.051,"a":268,"m":50},{"x":-1.25,"y":-0.05,"e":-1.273,"f":-0.051,"a":268,"m":12},{"x":-1.35,"y":-0.05,"e":-1.371,"f":-0.048,"a":275,"m":0},{"x":-1.45,"y":-0.05,"e":-1.471,"f":-0.048,"a":275,"m":0},
{"x":-0.05,"y":-0.15,"e":-0.061,"f":-0.183,"a":198,"m":50},{"x":-0.15,"y":-0.15,"e":-0.188,"f":-0.188,"a":225,"m":100},{"x":-0.25,"y":-0.15,"e":-0.309,"f":-0.185,"a":239,"m":130},{"x":-0.35,"y":-0.15,"e":-0.427,"f":-0.183,"a":247,"m":150},{"x":-0.45,"y":-0.15,"e":-0.533,"f":-0.178,"a":252,"m":195},{"x":-0.55,"y":-0.15,"e":-0.633,"f":-0.173,"a":255,"m":150},{"x":-0.65,"y":-0.15,"e":-0.724,"f":-0.167,"a":257,"m":135},{"x":-0.75,"y":-0.15,"e":-0.815,"f":-0.163,"a":259,"m":130},{"x":-0.85,"y":-0.15,"e":-0.906,"f":-0.16,"a":260,"m":112},{"x":-0.95,"y":-0.15,"e":-0.997,"f":-0.158,"a":261,"m":90},{"x":-1.05,"y":-0.15,"e":-1.088,"f":-0.155,"a":262,"m":60},{"x":-1.15,"y":-0.15,"e":-1.18,"f":-0.154,"a":263,"m":45},{"x":-1.25,"y":-0.15,"e":-1.273,"f":-0.153,"a":263,"m":10},{"x":-1.35,"y":-0.15,"e":-1.371,"f":-0.148,"a":275,"m":0},{"x":-1.45,"y":-0.15,"e":-1.471,"f":-0.148,"a":275,"m":0},
{"x":-0.05,"y":-0.25,"e":-0.062,"f":-0.312,"a":191,"m":95},{"x":-0.15,"y":-0.25,"e":-0.185,"f":-0.309,"a":211,"m":130},{"x":-0.25,"y":-0.25,"e":-0.307,"f":-0.307,"a":225,"m":150},{"x":-0.35,"y":-0.25,"e":-0.421,"f":-0.301,"a":234,"m":150},{"x":-0.45,"y":-0.25,"e":-0.525,"f":-0.292,"a":241,"m":195},{"x":-0.55,"y":-0.25,"e":-0.626,"f":-0.285,"a":246,"m":145},{"x":-0.65,"y":-0.25,"e":-0.72,"f":-0.277,"a":249,"m":130},{"x":-0.75,"y":-0.25,"e":-0.811,"f":-0.27,"a":252,"m":120},{"x":-0.85,"y":-0.25,"e":-0.903,"f":-0.266,"a":254,"m":108},{"x":-0.95,"y":-0.25,"e":-0.994,"f":-0.262,"a":255,"m":82},{"x":-1.05,"y":-0.25,"e":-1.085,"f":-0.258,"a":257,"m":58},{"x":-1.15,"y":-0.25,"e":-1.178,"f":-0.256,"a":258,"m":42},{"x":-1.25,"y":-0.25,"e":-1.271,"f":-0.248,"a":275,"m":5},{"x":-1.35,"y":-0.25,"e":-1.371,"f":-0.248,"a":275,"m":0},{"x":-1.45,"y":-0.25,"e":-1.471,"f":-0.248,"a":275,"m":0},
{"x":-0.05,"y":-0.35,"e":-0.061,"f":-0.427,"a":188,"m":151},{"x":-0.15,"y":-0.35,"e":-0.183,"f":-0.427,"a":203,"m":150},{"x":-0.25,"y":-0.35,"e":-0.301,"f":-0.421,"a":216,"m":150},{"x":-0.35,"y":-0.35,"e":-0.412,"f":-0.412,"a":225,"m":195},{"x":-0.45,"y":-0.35,"e":-0.516,"f":-0.401,"a":232,"m":150},{"x":-0.55,"y":-0.35,"e":-0.616,"f":-0.392,"a":238,"m":135},{"x":-0.65,"y":-0.35,"e":-0.712,"f":-0.384,"a":242,"m":125},{"x":-0.75,"y":-0.35,"e":-0.805,"f":-0.376,"a":245,"m":116},{"x":-0.85,"y":-0.35,"e":-0.898,"f":-0.37,"a":248,"m":100},{"x":-0.95,"y":-0.35,"e":-0.989,"f":-0.365,"a":250,"m":74},{"x":-1.05,"y":-0.35,"e":-1.083,"f":-0.361,"a":252,"m":55},{"x":-1.15,"y":-0.35,"e":-1.175,"f":-0.358,"a":253,"m":33},{"x":-1.25,"y":-0.35,"e":-1.271,"f":-0.348,"a":275,"m":0},{"x":-1.35,"y":-0.35,"e":-1.369,"f":-0.343,"a":290,"m":0},{"x":-1.45,"y":-0.35,"e":-1.469,"f":-0.343,"a":290,"m":0},
{"x":-0.05,"y":-0.45,"e":-0.059,"f":-0.533,"a":186,"m":195},{"x":-0.15,"y":-0.45,"e":-0.178,"f":-0.533,"a":198,"m":195},{"x":-0.25,"y":-0.45,"e":-0.292,"f":-0.525,"a":209,"m":195},{"x":-0.35,"y":-0.45,"e":-0.401,"f":-0.516,"a":218,"m":150},{"x":-0.45,"y":-0.45,"e":-0.507,"f":-0.507,"a":225,"m":135},{"x":-0.55,"y":-0.45,"e":-0.606,"f":-0.496,"a":231,"m":128},{"x":-0.65,"y":-0.45,"e":-0.703,"f":-0.487,"a":235,"m":120},{"x":-0.75,"y":-0.45,"e":-0.799,"f":-0.479,"a":239,"m":110},{"x":-0.85,"y":-0.45,"e":-0.892,"f":-0.472,"a":242,"m":90},{"x":-0.95,"y":-0.45,"e":-0.984,"f":-0.466,"a":245,"m":62},{"x":-1.05,"y":-0.45,"e":-1.079,"f":-0.463,"a":247,"m":50},{"x":-1.15,"y":-0.45,"e":-1.173,"f":-0.459,"a":249,"m":18},{"x":-1.25,"y":-0.45,"e":-1.266,"f":-0.436,"a":310,"m":0},{"x":-1.35,"y":-0.45,"e":-1.366,"f":-0.436,"a":310,"m":0},
{"x":-0.05,"y":-0.55,"e":-0.058,"f":-0.634,"a":185,"m":150},{"x":-0.15,"y":-0.55,"e":-0.173,"f":-0.633,"a":195,"m":150},{"x":-0.25,"y":-0.55,"e":-0.285,"f":-0.626,"a":204,"m":145},{"x":-0.35,"y":-0.55,"e":-0.392,"f":-0.616,"a":212,"m":135},{"x":-0.45,"y":-0.55,"e":-0.496,"f":-0.606,"a":219,"m":128},{"x":-0.55,"y":-0.55,"e":-0.596,"f":-0.596,"a":225,"m":120},{"x":-0.65,"y":-0.55,"e":-0.695,"f":-0.588,"a":230,"m":115},{"x":-0.75,"y":-0.55,"e":-0.79,"f":-0.579,"a":234,"m":98},{"x":-0.85,"y":-0.55,"e":-0.885,"f":-0.573,"a":237,"m":74},{"x":-0.95,"y":-0.55,"e":-0.979,"f":-0.567,"a":240,"m":55},{"x":-1.05,"y":-0.55,"e":-1.075,"f":-0.563,"a":242,"m":38},{"x":-1.15,"y":-0.55,"e":-1.166,"f":-0.536,"a":310,"m":5},{"x":-1.25,"y":-0.55,"e":-1.266,"f":-0.536,"a":310,"m":0},{"x":-1.35,"y":-0.55,"e":-1.366,"f":-0.536,"a":310,"m":0},
{"x":-0.05,"y":-0.65,"e":-0.056,"f":-0.726,"a":184,"m":140},{"x":-0.15,"y":-0.65,"e":-0.167,"f":-0.724,"a":193,"m":135},{"x":-0.25,"y":-0.65,"e":-0.277,"f":-0.72,"a":201,"m":130},{"x":-0.35,"y":-0.65,"e":-0.384,"f":-0.712,"a":208,"m":125},{"x":-0.45,"y":-0.65,"e":-0.487,"f":-0.703,"a":215,"m":120},{"x":-0.55,"y":-0.65,"e":-0.588,"f":-0.695,"a":220,"m":115},{"x":-0.65,"y":-0.65,"e":-0.688,"f":-0.688,"a":225,"m":103},{"x":-0.75,"y":-0.65,"e":-0.785,"f":-0.68,"a":229,"m":80},{"x":-0.85,"y":-0.65,"e":-0.879,"f":-0.672,"a":233,"m":60},{"x":-0.95,"y":-0.65,"e":-0.975,"f":-0.667,"a":236,"m":50},{"x":-1.05,"y":-0.65,"e":-1.071,"f":-0.663,"a":238,"m":18},{"x":-1.15,"y":-0.65,"e":-1.15,"f":-0.629,"a":0,"m":0},{"x":-1.25,"y":-0.65,"e":-1.26,"f":-0.632,"a":330,"m":0},{"x":-1.35,"y":-0.65,"e":-1.366,"f":-0.636,"a":310,"m":0},
{"x":-0.05,"y":-0.75,"e":-0.054,"f":-0.815,"a":184,"m":150},{"x":-0.15,"y":-0.75,"e":-0.163,"f":-0.815,"a":191,"m":130},{"x":-0.25,"y":-0.75,"e":-0.27,"f":-0.811,"a":198,"m":120},{"x":-0.35,"y":-0.75,"e":-0.376,"f":-0.805,"a":205,"m":116},{"x":-0.45,"y":-0.75,"e":-0.479,"f":-0.799,"a":211,"m":110},{"x":-0.55,"y":-0.75,"e":-0.579,"f":-0.79,"a":216,"m":98},{"x":-0.65,"y":-0.75,"e":-0.68,"f":-0.785,"a":221,"m":80},{"x":-0.75,"y":-0.75,"e":-0.777,"f":-0.777,"a":225,"m":60},{"x":-0.85,"y":-0.75,"e":-0.874,"f":-0.771,"a":229,"m":52},{"x":-0.95,"y":-0.75,"e":-0.971,"f":-0.767,"a":232,"m":30},{"x":-1.05,"y":-0.75,"e":-1.05,"f":-0.729,"a":0,"m":0},{"x":-1.15,"y":-0.75,"e":-1.15,"f":-0.729,"a":0,"m":0},{"x":-1.25,"y":-0.75,"e":-1.25,"f":-0.729,"a":0,"m":0},
{"x":-0.05,"y":-0.85,"e":-0.053,"f":-0.907,"a":183,"m":120},{"x":-0.15,"y":-0.85,"e":-0.16,"f":-0.906,"a":190,"m":112},{"x":-0.25,"y":-0.85,"e":-0.266,"f":-0.903,"a":196,"m":108},{"x":-0.35,"y":-0.85,"e":-0.37,"f":-0.898,"a":202,"m":100},{"x":-0.45,"y":-0.85,"e":-0.472,"f":-0.892,"a":208,"m":90},{"x":-0.55,"y":-0.85,"e":-0.573,"f":-0.885,"a":213,"m":74},{"x":-0.65,"y":-0.85,"e":-0.672,"f":-0.879,"a":217,"m":60},{"x":-0.75,"y":-0.85,"e":-0.771,"f":-0.874,"a":221,"m":52},{"x":-0.85,"y":-0.85,"e":-0.869,"f":-0.869,"a":225,"m":33},{"x":-0.95,"y":-0.85,"e":-0.95,"f":-0.829,"a":0,"m":5},{"x":-1.05,"y":-0.85,"e":-1.05,"f":-0.829,"a":0,"m":0},{"x":-1.15,"y":-0.85,"e":-1.15,"f":-0.829,"a":0,"m":0},
{"x":-0.05,"y":-0.95,"e":-0.053,"f":-0.998,"a":183,"m":95},{"x":-0.15,"y":-0.95,"e":-0.158,"f":-0.997,"a":189,"m":90},{"x":-0.25,"y":-0.95,"e":-0.262,"f":-0.994,"a":195,"m":82},{"x":-0.35,"y":-0.95,"e":-0.365,"f":-0.989,"a":200,"m":74},{"x":-0.45,"y":-0.95,"e":-0.466,"f":-0.984,"a":205,"m":62},{"x":-0.55,"y":-0.95,"e":-0.567,"f":-0.979,"a":210,"m":55},{"x":-0.65,"y":-0.95,"e":-0.667,"f":-0.975,"a":214,"m":50},{"x":-0.75,"y":-0.95,"e":-0.767,"f":-0.971,"a":218,"m":30},{"x":-0.85,"y":-0.95,"e":-0.834,"f":-0.964,"a":130,"m":5},{"x":-0.95,"y":-0.95,"e":-0.95,"f":-0.929,"a":0,"m":0},{"x":-1.05,"y":-0.95,"e":-1.05,"f":-0.929,"a":0,"m":0},{"x":-1.15,"y":-0.95,"e":-1.15,"f":-0.929,"a":0,"m":0},
{"x":-0.05,"y":-1.05,"e":-0.052,"f":-1.086,"a":183,"m":62},{"x":-0.15,"y":-1.05,"e":-0.155,"f":-1.088,"a":188,"m":60},{"x":-0.25,"y":-1.05,"e":-0.258,"f":-1.085,"a":193,"m":58},{"x":-0.35,"y":-1.05,"e":-0.361,"f":-1.083,"a":198,"m":55},{"x":-0.45,"y":-1.05,"e":-0.463,"f":-1.079,"a":203,"m":50},{"x":-0.55,"y":-1.05,"e":-0.563,"f":-1.075,"a":208,"m":38},{"x":-0.65,"y":-1.05,"e":-0.663,"f":-1.071,"a":212,"m":18},{"x":-0.75,"y":-1.05,"e":-0.734,"f":-1.064,"a":130,"m":0},{"x":-0.85,"y":-1.05,"e":-0.829,"f":-1.05,"a":90,"m":0},{"x":-0.95,"y":-1.05,"e":-0.929,"f":-1.05,"a":90,"m":0},{"x":-1.05,"y":-1.05,"e":-1.05,"f":-1.029,"a":0,"m":0},
{"x":-0.05,"y":-1.15,"e":-0.051,"f":-1.18,"a":182,"m":50},{"x":-0.15,"y":-1.15,"e":-0.154,"f":-1.18,"a":187,"m":45},{"x":-0.25,"y":-1.15,"e":-0.256,"f":-1.178,"a":192,"m":42},{"x":-0.35,"y":-1.15,"e":-0.358,"f":-1.175,"a":197,"m":33},{"x":-0.45,"y":-1.15,"e":-0.459,"f":-1.173,"a":201,"m":18},{"x":-0.55,"y":-1.15,"e":-0.529,"f":-1.15,"a":90,"m":5},{"x":-0.65,"y":-1.15,"e":-0.629,"f":-1.15,"a":90,"m":0},{"x":-0.75,"y":-1.15,"e":-0.729,"f":-1.15,"a":90,"m":0},{"x":-0.85,"y":-1.15,"e":-0.829,"f":-1.15,"a":90,"m":0},{"x":-0.95,"y":-1.15,"e":-0.935,"f":-1.135,"a":45,"m":0},
{"x":-0.05,"y":-1.25,"e":-0.051,"f":-1.273,"a":182,"m":12},{"x":-0.15,"y":-1.25,"e":-0.153,"f":-1.273,"a":187,"m":10},{"x":-0.25,"y":-1.25,"e":-0.234,"f":-1.264,"a":130,"m":5},{"x":-0.35,"y":-1.25,"e":-0.334,"f":-1.264,"a":130,"m":0},{"x":-0.45,"y":-1.25,"e":-0.429,"f":-1.25,"a":90,"m":0},{"x":-0.55,"y":-1.25,"e":-0.529,"f":-1.25,"a":90,"m":0},{"x":-0.65,"y":-1.25,"e":-0.629,"f":-1.25,"a":90,"m":0},{"x":-0.75,"y":-1.25,"e":-0.729,"f":-1.25,"a":90,"m":0},
{"x":-0.05,"y":-1.35,"e":-0.045,"f":-1.371,"a":165,"m":0},{"x":-0.15,"y":-1.35,"e":-0.134,"f":-1.364,"a":130,"m":0},{"x":-0.25,"y":-1.35,"e":-0.234,"f":-1.364,"a":130,"m":0},{"x":-0.35,"y":-1.35,"e":-0.329,"f":-1.35,"a":90,"m":0},{"x":-0.45,"y":-1.35,"e":-0.435,"f":-1.335,"a":45,"m":0},{"x":-0.55,"y":-1.35,"e":-0.529,"f":-1.35,"a":90,"m":0},{"x":-0.65,"y":-1.35,"e":-0.634,"f":-1.364,"a":130,"m":0},
{"x":-0.05,"y":-1.45,"e":-0.05,"f":-1.471,"a":180,"m":0},{"x":-0.15,"y":-1.45,"e":-0.134,"f":-1.464,"a":130,"m":0},{"x":-0.25,"y":-1.45,"e":-0.245,"f":-1.471,"a":165,"m":0},{"x":-0.35,"y":-1.45,"e":-0.334,"f":-1.464,"a":130,"m":0}
]},
"layer":[
{"data":{"values":[{"r":1.495,"g":27},{"r":1.48,"g":29},{"r":1.46,"g":31},{"r":1.44,"g":33},{"r":1.42,"g":36},{"r":1.4,"g":38},{"r":1.38,"g":40},{"r":1.36,"g":43},{"r":1.34,"g":45},{"r":1.32,"g":47},{"r":1.3,"g":50},{"r":1.28,"g":52},{"r":1.26,"g":55},{"r":1.24,"g":57},{"r":1.22,"g":59},{"r":1.2,"g":62},{"r":1.18,"g":65},{"r":1.16,"g":68},{"r":1.14,"g":72},{"r":1.12,"g":76},{"r":1.1,"g":80},{"r":1.08,"g":85},{"r":1.06,"g":90},{"r":1.04,"g":96},{"r":1.02,"g":103},{"r":1.0,"g":110},{"r":0.98,"g":117},{"r":0.96,"g":124},{"r":0.94,"g":131},{"r":0.92,"g":138},{"r":0.9,"g":145},{"r":0.88,"g":152},{"r":0.86,"g":159},{"r":0.84,"g":167},{"r":0.82,"g":174},{"r":0.8,"g":181},{"r":0.78,"g":190},{"r":0.76,"g":199},{"r":0.74,"g":207},{"r":0.72,"g":215},{"r":0.7,"g":222},{"r":0.68,"g":229},{"r":0.66,"g":235},{"r":0.64,"g":240},{"r":0.62,"g":245},{"r":0.6,"g":250},{"r":0.57,"g":253},{"r":0.54,"g":255},{"r":0.33,"g":254},{"r":0.32,"g":253},{"r":0.31,"g":250},{"r":0.3,"g":248},{"r":0.29,"g":245},{"r":0.28,"g":241},{"r":0.27,"g":236},{"r":0.26,"g":230},{"r":0.25,"g":222},{"r":0.24,"g":214},{"r":0.23,"g":205},{"r":0.22,"g":195},{"r":0.21,"g":184},{"r":0.2,"g":172},{"r":0.19,"g":160},{"r":0.18,"g":146},{"r":0.17,"g":133},{"r":0.16,"g":120},{"r":0.15,"g":108},{"r":0.14,"g":96},{"r":0.13,"g":85},{"r":0.12,"g":74},{"r":0.11,"g":64},{"r":0.1,"g":55},{"r":0.09,"g":46},{"r":0.08,"g":37},{"r":0.07,"g":29},{"r":0.06,"g":22},{"r":0.05,"g":16},{"r":0.04,"g":11},{"r":0.03,"g":6},{"r":0.02,"g":3},{"r":0.01,"g":1}]},
"mark":{"type":"point","filled":true,"opacity":1,"shape":"M-1,0A1,0.9737 0 1,1 1,0A1,0.9737 0 1,1 -1,0Z"},
"encoding":{"x":{"datum":0,"type":"quantitative","scale":{"domain":[-1.5,1.5],"nice":false},"axis":{"values":[-1.5,-1,-0.5,0,0.5,1,1.5],"tickSize":-24,"labelPadding":31,"format":".2~f","title":"X (fm)","titleX":795,"titleY":45,"titleAlign":"right","titleAnchor":"end"}},"y":{"datum":0,"type":"quantitative","scale":{"domain":[-1.5,1.5],"nice":false},"axis":{"values":[-1.5,-1,-0.5,0,0.5,1,1.5],"tickSize":-24,"labelPadding":31,"format":".2~f","title":"Y (fm)","titleX":-49,"titleY":0,"titleAlign":"right","titleAngle":-90}},"size":{"field":"r","type":"quantitative","scale":{"type":"pow","exponent":2,"domain":[0,1.5],"range":[0,635209]},"legend":null},"color":{"field":"g","type":"quantitative","scale":{"domain":[0,255],"range":["#000000","#ffffff"]},"legend":null}}},
{"data":{"values":[{"g":-1},{"g":-0.5},{"g":0},{"g":0.5},{"g":1}]},"layer":[{"mark":{"type":"rule","color":"black","strokeWidth":1,"strokeDash":[1,2]},"encoding":{"x":{"field":"g","type":"quantitative"}}},{"mark":{"type":"rule","color":"black","strokeWidth":1,"strokeDash":[1,2]},"encoding":{"y":{"field":"g","type":"quantitative"}}}]},
{"data":{"values":[{"v":-1.4},{"v":-1.3},{"v":-1.2},{"v":-1.1},{"v":-0.9},{"v":-0.8},{"v":-0.7},{"v":-0.6},{"v":-0.4},{"v":-0.3},{"v":-0.2},{"v":-0.1},{"v":0.1},{"v":0.2},{"v":0.3},{"v":0.4},{"v":0.6},{"v":0.7},{"v":0.8},{"v":0.9},{"v":1.1},{"v":1.2},{"v":1.3},{"v":1.4}]},"layer":[{"mark":{"type":"rule","color":"black","strokeWidth":1},"encoding":{"x":{"field":"v","type":"quantitative"},"y":{"datum":-1.5},"y2":{"datum":-1.4536}}},{"mark":{"type":"rule","color":"black","strokeWidth":1},"encoding":{"y":{"field":"v","type":"quantitative"},"x":{"datum":-1.5},"x2":{"datum":-1.4548}}}]},
{"data":{"name":"arrows"},"layer":[{"mark":{"type":"rule","strokeWidth":2.4},"encoding":{"x":{"field":"x","type":"quantitative"},"y":{"field":"y","type":"quantitative"},"x2":{"field":"e"},"y2":{"field":"f"},"color":{"field":"m","type":"quantitative","scale":{"domain":[0,207],"range":["#00ffff","#003030"]},"legend":null}}},{"mark":{"type":"point","filled":true,"opacity":1,"shape":"M0,0L-0.5,0.85L0.5,0.85Z","size":256},"encoding":{"x":{"field":"e","type":"quantitative"},"y":{"field":"f","type":"quantitative"},"angle":{"field":"a","type":"quantitative","scale":null},"color":{"field":"m","type":"quantitative","scale":{"domain":[0,207],"range":["#00ffff","#003030"]},"legend":null}}}]}
],"resolve":{"scale":{"color":"independent","size":"independent"}}}
